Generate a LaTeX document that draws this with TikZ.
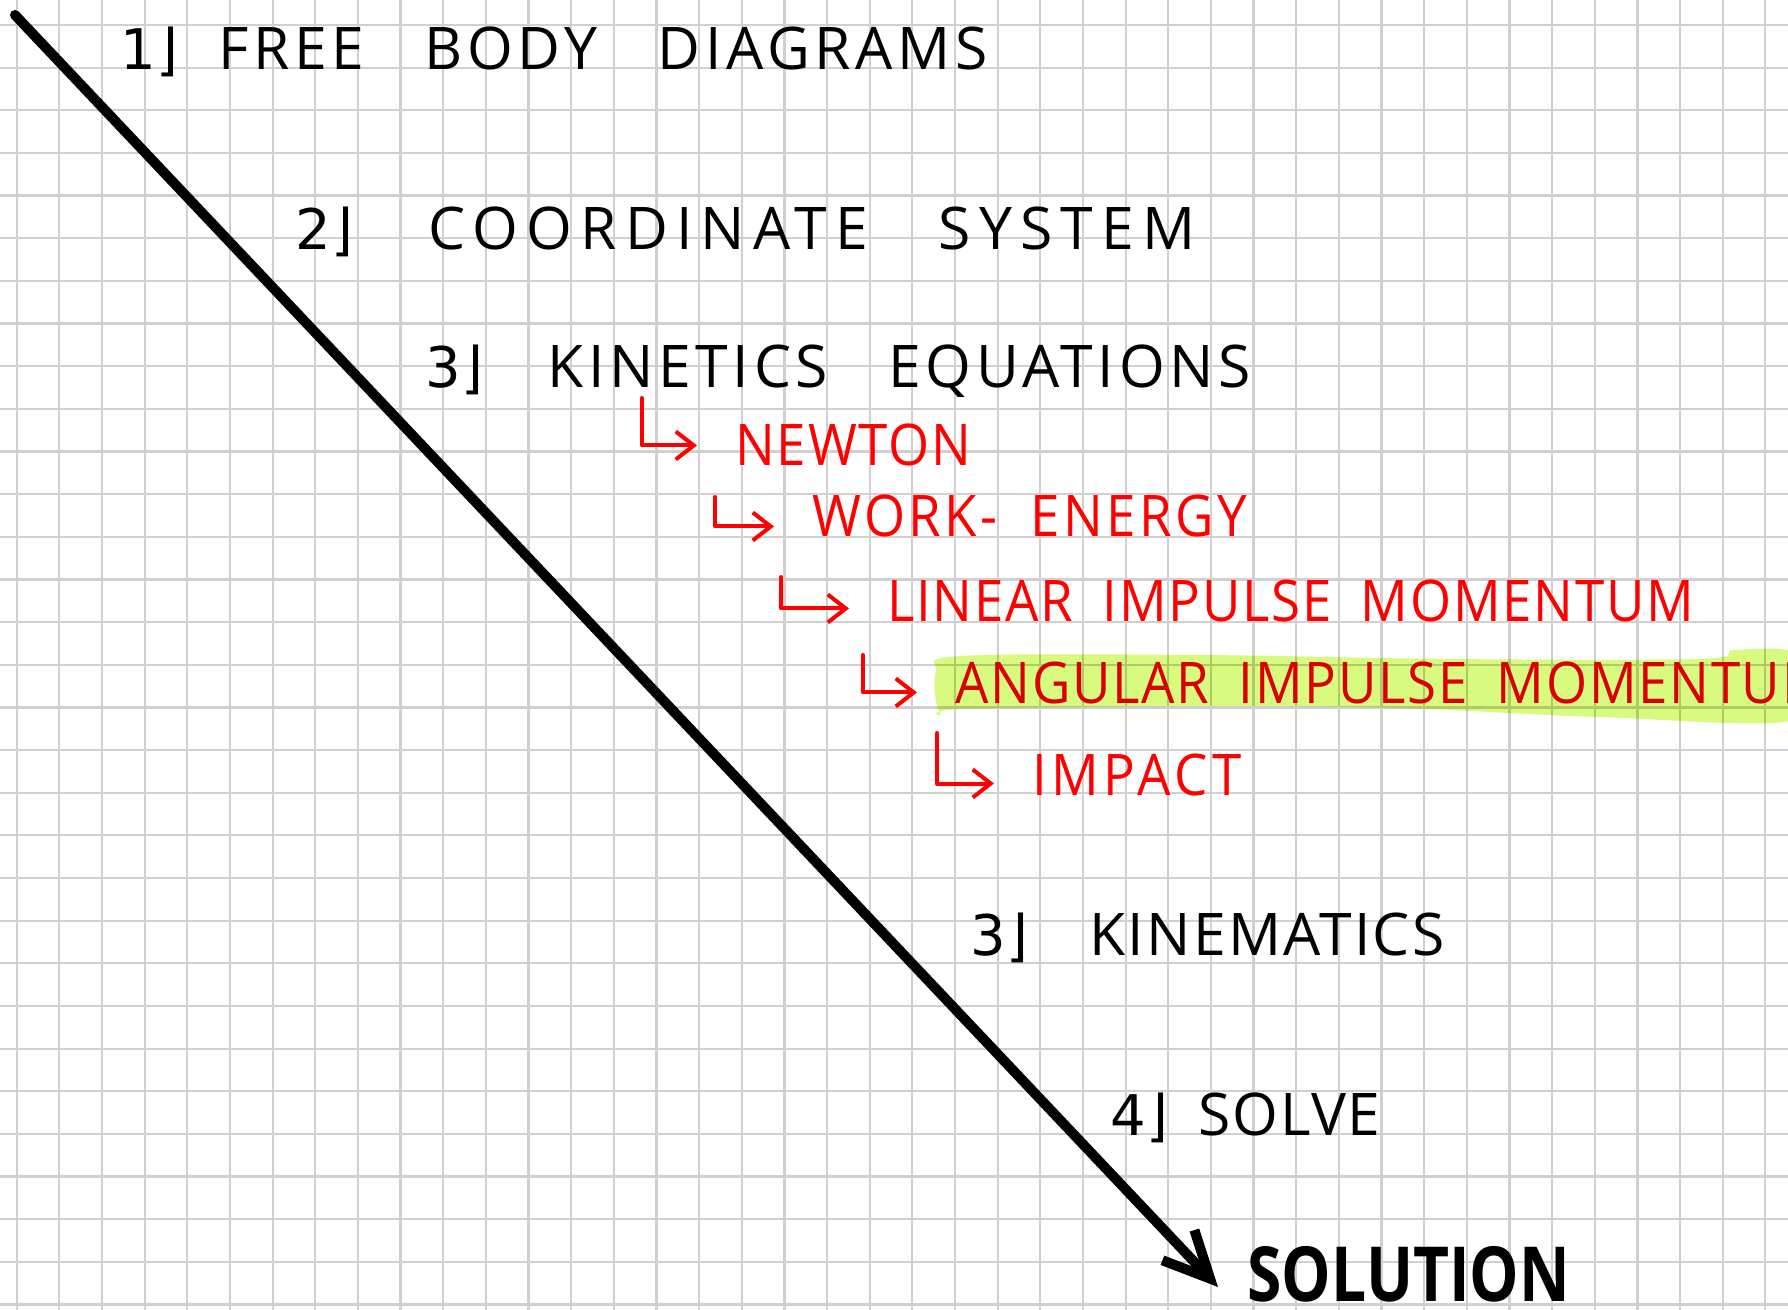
\documentclass[tikz,border=0pt]{standalone}
\usepackage{fontspec}
\usepackage{tikz}
\usetikzlibrary{arrows.meta}
\setmainfont{Open Sans}
\newfontfamily\handfont[LetterSpace=8, WordSpace=3]{Open Sans}
\newfontfamily\redfont[LetterSpace=3, WordSpace=1.9, FakeStretch=0.92]{Open Sans}
\newfontfamily\numfont{DejaVu Sans}
\newfontfamily\solfont[FakeStretch=0.82]{Open Sans}
\definecolor{penblack}{HTML}{000000}
\definecolor{penred}{HTML}{FF0000}
\definecolor{gridgray}{HTML}{D0D0D0}
\definecolor{marker}{HTML}{D8FA7E}
\tikzset{
  gridline/.style={draw=gridgray, line width=1.1pt},
  title/.style={
    anchor=base west, inner sep=0pt, text=penblack,
    font=\handfont\fontsize{29.4pt}{35pt}\selectfont,
  },
  numlabel/.style={
    anchor=base west, inner sep=0pt, text=penblack,
    font=\numfont\fontsize{28pt}{32pt}\selectfont,
  },
  sublabel/.style={
    anchor=base west, inner sep=0pt, text=penred,
    font=\redfont\fontsize{28.7pt}{34pt}\selectfont,
  },
  result/.style={
    anchor=base west, inner sep=0pt, text=penblack,
    font=\solfont\bfseries\fontsize{38pt}{42pt}\selectfont,
  },
  mainarrow/.style={-{Straight Barb[length=23pt, width=22pt]}, line width=5pt,
    line cap=round, line join=round, draw=penblack},
  subarrow/.style={-{Straight Barb[length=9pt, width=14pt]}, line width=2pt,
    line cap=round, line join=round, draw=penred, shorten >=19pt},
  hilite/.style={fill=marker, blend mode=multiply},
}
\begin{document}
\begin{tikzpicture}[x=0.5pt, y=-0.5pt]

  \useasboundingbox (0,0) rectangle (1788,1310);
  \fill[white] (0,0) rectangle (1788,1310);
  \clip (0,0) rectangle (1788,1310);

  % squared paper
  \foreach \k in {0,...,41}
    \draw[gridline] ({16.7+42.65*\k},0) -- ({16.7+42.65*\k},1310);
  \foreach \k in {0,...,30}
    \draw[gridline] (0,{25+42.65*\k}) -- (1788,{25+42.65*\k});

  % steps
  \node[numlabel] (n1) at (120,70) {1⌋};
  \node[title] (fbd) at (218,70) {FREE BODY DIAGRAMS};
  \node[numlabel] (n2) at (295,250) {2⌋};
  \node[title] (coord) at (428,250) {\addfontfeature{LetterSpace=14}COORDINATE SYSTEM};
  \node[numlabel] (n3) at (425,388) {3⌋};
  \node[title] (kinetics) at (547,388) {KINETICS EQUATIONS};

  \node[sublabel] (newton) at (735,466) {NEWTON};
  \node[sublabel] (work) at (812,536) {\addfontfeature{LetterSpace=6}WORK- ENERGY};
  \node[sublabel] (linear) at (887,621) {LINEAR IMPULSE MOMENTUM};
  \node[sublabel] (angular) at (955,703) {ANGULAR IMPULSE MOMENTUM};
  \node[sublabel] (impact) at (1032,795) {\addfontfeature{LetterSpace=8}IMPACT};

  \node[numlabel] (n3b) at (970,955) {3⌋};
  \node[title] (kinematics) at (1089,955) {\addfontfeature{LetterSpace=4}KINEMATICS};
  \node[numlabel] (n4) at (1110,1135) {4⌋};
  \node[title] (solve) at (1198,1135) {\addfontfeature{LetterSpace=3}SOLVE};
  \node[result] (solution) at (1247,1301) {SOLUTION};

  % marker over the angular line
  \fill[hilite] plot[smooth cycle, tension=0.6] coordinates {
    (936,672) (962,656) (1200,655) (1450,659) (1700,659) (1735,650)
    (1800,656) (1800,719) (1600,717) (1400,708) (1200,706) (962,709) (940,713)};

  % sub arrows
  \coordinate (s1) at (642,398);
  \coordinate (s2) at (715,497);
  \coordinate (s3) at (781,577);
  \coordinate (s4) at (863,655);
  \coordinate (s5) at (937,733);
  \draw[subarrow] (s1) |- (newton.west);
  \draw[subarrow] (s2) |- ([yshift=-5.5pt]work.west);
  \draw[subarrow] (s3) |- ([yshift=-4pt]linear.west);
  \draw[subarrow] (s4) |- ([yshift=-5pt]angular.west);
  \draw[subarrow] (s5) |- ([yshift=-4.5pt]impact.west);

  % main arrow
  \coordinate (top) at (15,15);
  \draw[mainarrow] (top) -- ([xshift=-14.5pt, yshift=7pt]solution.base west);

\end{tikzpicture}
\end{document}
